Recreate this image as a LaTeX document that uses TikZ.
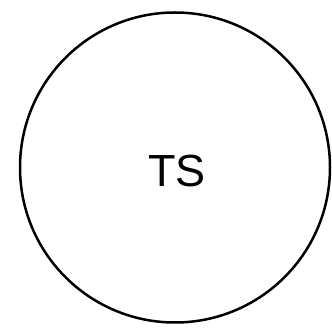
\documentclass[tikz,border=0pt]{standalone}
\usepackage{fontspec}
\setmainfont{Liberation Sans}
\begin{document}
\begin{tikzpicture}[x=1pt,y=-1pt,
  ring/.style={draw=black,line width=2.5pt,circle,minimum size=310pt,inner sep=0pt},
  lbl/.style={font=\fontsize{45}{45}\selectfont,inner sep=0pt}]
\useasboundingbox (0,0) rectangle (332,328);
\node[ring] (c) at (175,167.5) {};
\node[lbl,anchor=base] (ts) at (177,187) {TS};
\end{tikzpicture}
\end{document}
